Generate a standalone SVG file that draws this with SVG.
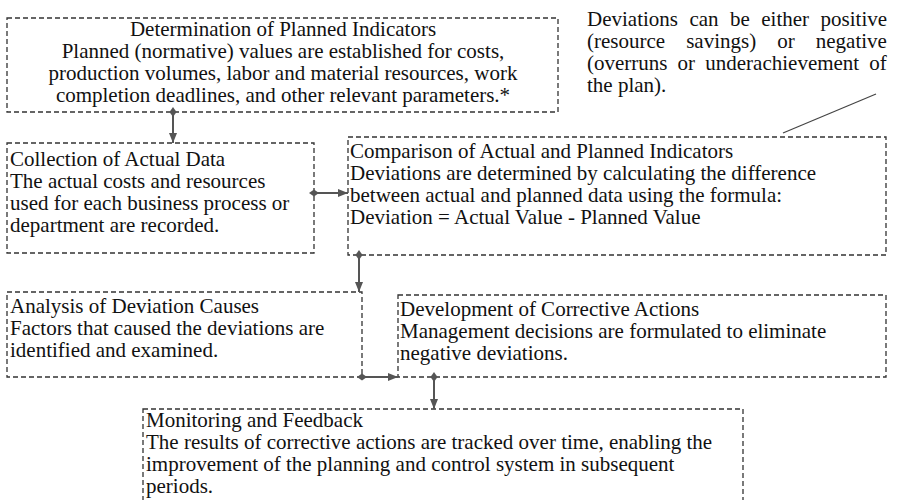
<svg xmlns="http://www.w3.org/2000/svg" width="900" height="500" viewBox="0 0 900 500">
<style>
.box{fill:#fff;stroke:#333;stroke-width:1.3;stroke-dasharray:5 3}
.t{font-size:21px;fill:#111}
.c{stroke:#555;stroke-width:2;fill:none;marker-start:url(#dia);marker-end:url(#arr)}
</style>
<defs>
<marker id="dia" viewBox="0 0 10 10" refX="5" refY="5" markerWidth="5" markerHeight="5" orient="auto" markerUnits="strokeWidth">
<path d="M0 5 L5 1.5 L10 5 L5 8.5 Z" fill="#555"/>
</marker>
<marker id="arr" viewBox="0 0 10 10" refX="10" refY="5" markerWidth="5" markerHeight="5" orient="auto" markerUnits="strokeWidth">
<path d="M0 1 L10 5 L0 9 Z" fill="#555"/>
</marker>
</defs>
<rect width="900" height="500" fill="#fff"/>

<g id="planned">
<rect class="box" x="7" y="18" width="551" height="94"/>
<text class="t" font-family="Liberation Serif" text-anchor="middle" x="283" y="36">Determination of Planned Indicators<tspan x="283" dy="22">Planned (normative) values are established for costs,</tspan><tspan x="283" dy="22">production volumes, labor and material resources, work</tspan><tspan x="283" dy="22">completion deadlines, and other relevant parameters.*</tspan></text>
</g>

<g id="note">
<text class="t" font-family="Liberation Serif" x="587" y="26"><tspan x="587" y="26" word-spacing="6.2">Deviations can be either positive</tspan><tspan x="587" y="48" word-spacing="15.8">(resource savings) or negative</tspan><tspan x="587" y="70" word-spacing="4.9">(overruns or underachievement of</tspan><tspan x="587" y="92">the plan).</tspan></text>
</g>

<g id="collection">
<rect class="box" x="7" y="143" width="307" height="110"/>
<text class="t" font-family="Liberation Serif" x="10" y="166">Collection of Actual Data<tspan x="10" dy="22">The actual costs and resources</tspan><tspan x="10" dy="22">used for each business process or</tspan><tspan x="10" dy="22">department are recorded.</tspan></text>
</g>

<g id="comparison">
<rect class="box" x="348" y="137" width="538" height="118"/>
<text class="t" font-family="Liberation Serif" x="350" y="158">Comparison of Actual and Planned Indicators<tspan x="350" dy="22">Deviations are determined by calculating the difference</tspan><tspan x="350" dy="22">between actual and planned data using the formula:</tspan><tspan x="350" dy="22">Deviation = Actual Value - Planned Value</tspan></text>
</g>

<g id="analysis">
<rect class="box" x="7" y="292" width="355" height="85"/>
<text class="t" font-family="Liberation Serif" x="10" y="313">Analysis of Deviation Causes<tspan x="10" dy="22">Factors that caused the deviations are</tspan><tspan x="10" dy="22">identified and examined.</tspan></text>
</g>

<g id="development">
<rect class="box" x="398" y="295" width="488" height="82"/>
<text class="t" font-family="Liberation Serif" x="400" y="316">Development of Corrective Actions<tspan x="400" dy="22">Management decisions are formulated to eliminate</tspan><tspan x="400" dy="22">negative deviations.</tspan></text>
</g>

<g id="monitoring">
<rect class="box" x="143" y="409" width="600" height="94"/>
<text class="t" font-family="Liberation Serif" x="146" y="427">Monitoring and Feedback<tspan x="146" dy="22">The results of corrective actions are tracked over time, enabling the</tspan><tspan x="146" dy="22">improvement of the planning and control system in subsequent</tspan><tspan x="146" dy="22">periods.</tspan></text>
</g>

<g id="connectors">
<path class="c" d="M173 112 V143"/>
<path class="c" d="M314 193 H348"/>
<path class="c" d="M359 255 V292"/>
<path class="c" d="M362 377 H398"/>
<path class="c" d="M434 377 V409"/>
<path d="M876 94 L783 133" stroke="#444" stroke-width="1.2" fill="none"/>
</g>
</svg>
